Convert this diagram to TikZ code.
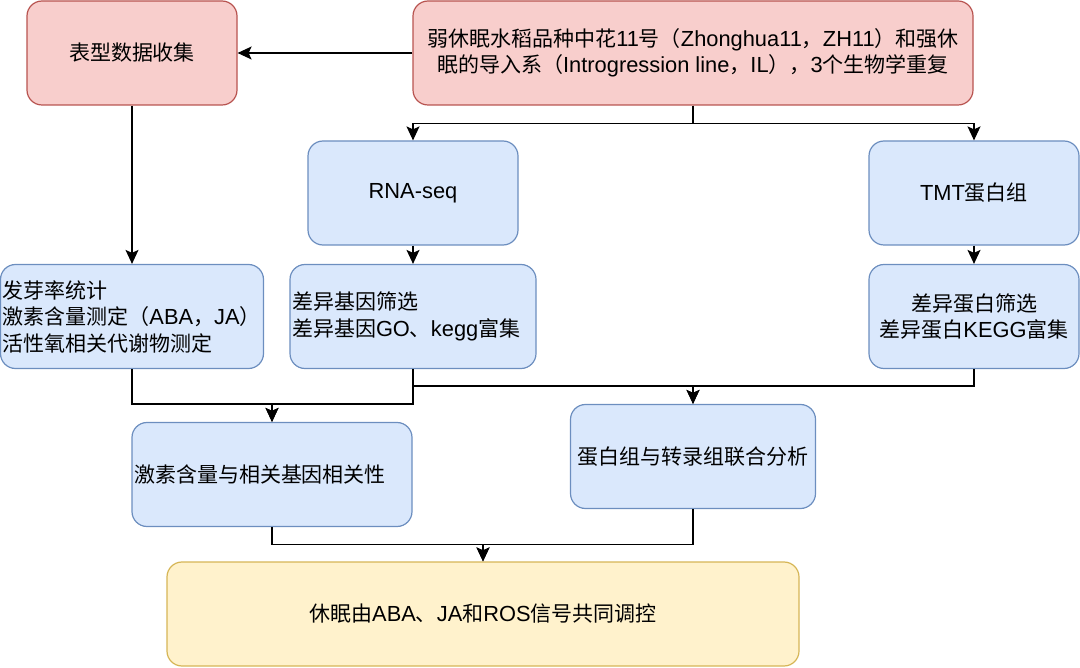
\documentclass[tikz,border=0pt]{standalone}
\usepackage{fontspec}
\setmainfont{Noto Sans CJK SC}
\newfontfamily\latinfont[Scale=1.04]{Liberation Sans}
\newcommand\en[1]{{\latinfont #1}}
\usepackage{tikz}
\usetikzlibrary{arrows.meta}

\definecolor{redfill}{HTML}{F8CECC}
\definecolor{redline}{HTML}{B85450}
\definecolor{bluefill}{HTML}{DAE8FC}
\definecolor{blueline}{HTML}{6C8EBF}
\definecolor{yellowfill}{HTML}{FFF2CC}
\definecolor{yellowline}{HTML}{D6B656}

\begin{document}
\begin{tikzpicture}[x=1pt, y=-1pt,
  >={Stealth[length=14pt, width=13pt, inset=3pt]},
  box/.style={draw, rounded corners=15pt, line width=1.2pt, minimum height=104pt,
    minimum width=210pt, inner sep=2pt, align=center,
    font=\fontsize{21}{26.5}\selectfont},
  redbox/.style={box, fill=redfill, draw=redline},
  bluebox/.style={box, fill=bluefill, draw=blueline},
  yellowbox/.style={box, fill=yellowfill, draw=yellowline},
  leftbox/.style={bluebox, align=left, text width=#1},
  link/.style={line width=1.2pt}]
  \useasboundingbox (0,0) rectangle (1080,668);

  \node[redbox, minimum width=560pt] (src) at (693,53) {弱休眠水稻品种中花\en{11}号（\en{Zhonghua11}，\en{ZH11}）和强休\\眠的导入系（\en{Introgression line}，\en{IL}），\en{3}个生物学重复};
  \node[redbox] (pheno) at (132,53) {表型数据收集};

  \node[bluebox] (rna) at (413,193) {\en{RNA-seq}};
  \node[bluebox] (tmt) at (974,193) {\en{TMT}蛋白组};

  \node[leftbox=259pt] (germ) at (132,316.5) {发芽率统计\\激素含量测定（\en{ABA}，\en{JA}）\\活性氧相关代谢物测定};
  \node[leftbox=242pt] (deg) at (413,316.5) {差异基因筛选\\差异基因\en{GO}、\en{kegg}富集};
  \node[bluebox] (dep) at (974,316.5) {差异蛋白筛选\\差异蛋白\en{KEGG}富集};

  \node[leftbox=276pt] (corr) at (272,474.5) {激素含量与相关基因相关性};
  \node[bluebox, minimum width=245pt] (joint) at (693,456.5) {蛋白组与转录组联合分析};

  \node[yellowbox, minimum width=632pt] (concl) at (483,614) {休眠由\en{ABA}、\en{JA}和\en{ROS}信号共同调控};

  \draw[link, ->] (src) -- (pheno);
  \draw[link, ->] (src.south) -- ++(0,18) -| (rna.north);
  \draw[link, ->] (src.south) -- ++(0,18) -| (tmt.north);
  \draw[link, ->] (pheno) -- (germ);
  \draw[link, ->] (rna) -- (deg);
  \draw[link, ->] (tmt) -- (dep);

  \draw[link, ->] (germ.south) -- ++(0,35) -| (corr.north);
  \draw[link, ->] (deg.south) -- ++(0,35) -| (corr.north);
  \draw[link, ->] (deg.south) -- ++(0,17) -| (joint.north);
  \draw[link, ->] (dep.south) -- ++(0,17) -| (joint.north);

  \draw[link, ->] (corr.south) -- ++(0,17.5) -| (concl.north);
  \draw[link, ->] (joint.south) -- ++(0,35.5) -| (concl.north);
\end{tikzpicture}
\end{document}
